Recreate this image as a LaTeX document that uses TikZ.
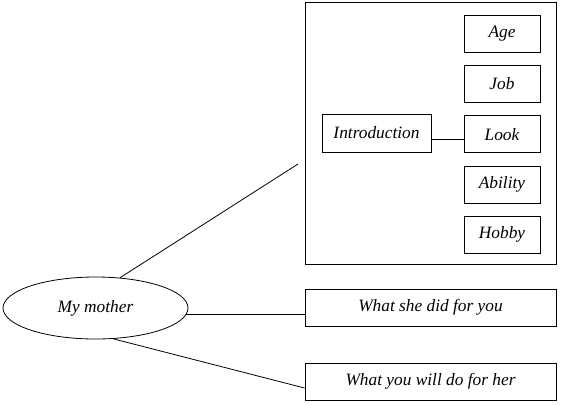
\documentclass[tikz,border=0pt]{standalone}
\usepackage{fontspec}
\setmainfont{Liberation Serif}
\usetikzlibrary{positioning,shapes.geometric}
\tikzset{
mind/.style={x=0.75pt,y=-0.75pt,line width=0.6pt,node distance=9.4pt,
    font=\fontsize{13}{15}\selectfont\itshape},
topic/.style={ellipse,draw,minimum width=138.75pt,minimum height=46.5pt,inner sep=0pt},
item/.style={rectangle,draw,minimum width=57pt,minimum height=27.75pt,inner sep=0pt},
part/.style={rectangle,draw,minimum width=188.25pt,minimum height=27.75pt,inner sep=0pt},
bigbox/.style={rectangle,draw,minimum width=188.25pt,minimum height=196.5pt,inner sep=0pt},
}

\begin{document}
\begin{tikzpicture}[mind]
    \useasboundingbox (0,0) rectangle (570,404);

    \node[bigbox] (frame) at (430.5,133) {};
    \node[item] (age) at (502,33.5) {Age};
    \node[item] (job) [below=of age] {Job};
    \node[item] (look) [below=of job] {Look};
    \node[item] (ability) [below=of look] {Ability};
    \node[item] (hobby) [below=of ability] {Hobby};
    \node[item,minimum width=81.75pt,minimum height=28.5pt] (intro) at (376.5,133) {Introduction};

    \node[topic] (mother) at (95.5,308) {My mother};
    \node[part] (did) at (430.5,307.5) {What she did for you};
    \node[part] (will) at (430.5,381.5) {What you will do for her};
    \coordinate (gap) at (298,164);

    \path[-]
        ([yshift=-4.5pt]intro.east) edge ([yshift=-4.5pt]intro.east -| look.west)
        (mother.51) edge (gap)
        (mother.-4) edge (mother.-4 -| did.west)
        (mother.-60) edge ([yshift=-4.9pt]will.west)
    ;
\end{tikzpicture}
\end{document}
